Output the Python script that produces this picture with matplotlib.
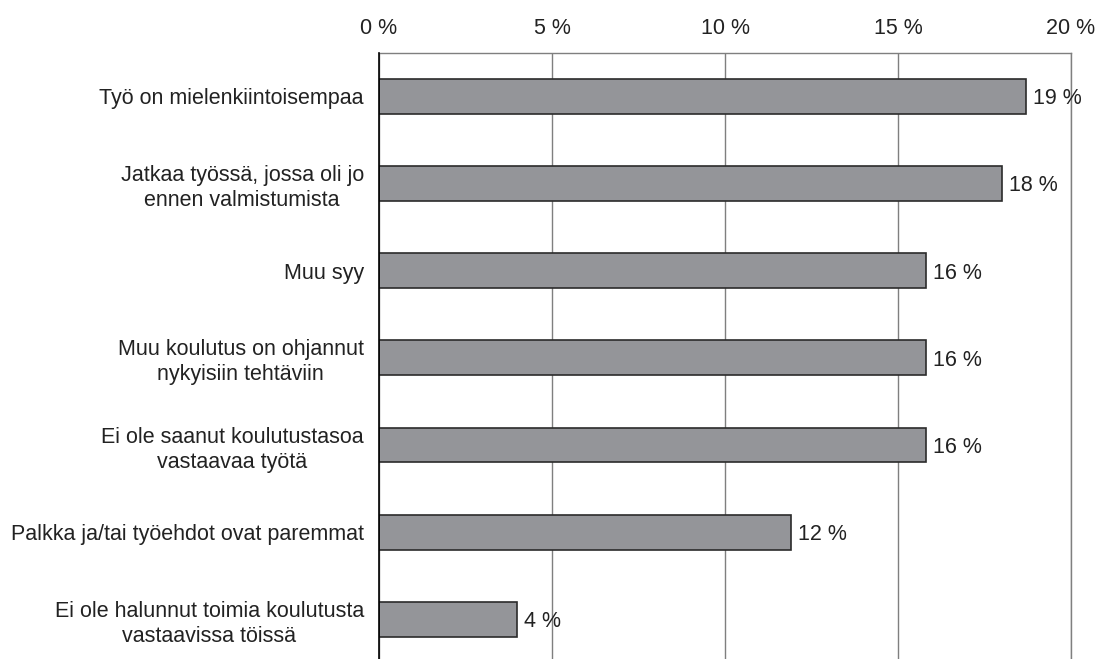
import matplotlib.pyplot as plt

plt.rcParams['font.family'] = ['Liberation Sans', 'DejaVu Sans']

# syyt ja osuudet (%)
syyt = [
    "Työ on mielenkiintoisempaa",
    "Jatkaa työssä, jossa oli jo\nennen valmistumista",
    "Muu syy",
    "Muu koulutus on ohjannut\nnykyisiin tehtäviin",
    "Ei ole saanut koulutustasoa\nvastaavaa työtä",
    "Palkka ja/tai työehdot ovat paremmat",
    "Ei ole halunnut toimia koulutusta\nvastaavissa töissä",
]
osuudet = [18.7, 18.0, 15.8, 15.8, 15.8, 11.9, 4.0]
nakyvat = ["19 %", "18 %", "16 %", "16 %", "16 %", "12 %", "4 %"]
tikit = [0, 5, 10, 15, 20]

fs = 15.5

fig = plt.figure(figsize=(10.98, 6.59), dpi=100)
ax = fig.add_axes([0.3452, -0.006, 0.6302, 0.926])

y = range(len(syyt))
ax.barh(y, osuudet, height=0.4, color='#949599', edgecolor='#2b2b2b', linewidth=1.2, zorder=3)

for i, (v, t) in enumerate(zip(osuudet, nakyvat)):
    ax.text(v + 0.2, i, t, va='center_baseline', ha='left', fontsize=fs, color='#222222', zorder=4)

ax.set_xlim(0, 20)
ax.set_ylim(len(syyt) - 0.5, -0.5)
ax.set_yticks(list(y))
ax.set_yticklabels(syyt, fontsize=fs, color='#222222', multialignment='center',
                   linespacing=1.25)
ax.set_xticks(tikit)
ax.set_xticklabels([f"{t} %" for t in tikit], fontsize=fs, color='#222222')

ax.xaxis.tick_top()
ax.tick_params(axis='x', length=0, pad=10)
ax.tick_params(axis='y', length=0, pad=11)

ax.grid(axis='x', color='#7f7f7f', linewidth=1, zorder=0)
for s in ['top', 'right']:
    ax.spines[s].set_color('#7f7f7f')
    ax.spines[s].set_linewidth(1)
ax.spines['bottom'].set_visible(False)
ax.spines['left'].set_color('black')
ax.spines['left'].set_linewidth(1.2)
ax.spines['left'].set_zorder(5)

fig.savefig('out.png', dpi=100)
